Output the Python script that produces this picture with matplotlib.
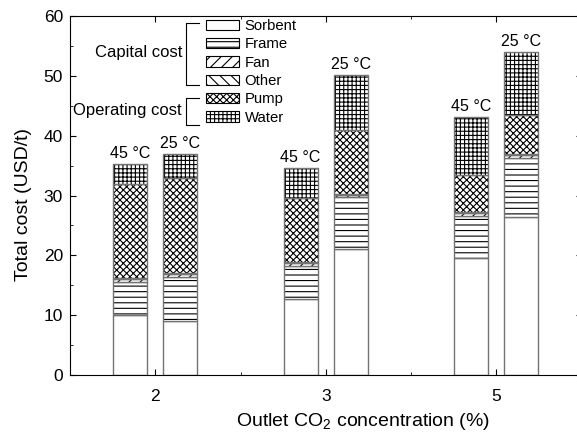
import numpy as np
from matplotlib import pyplot as plt
from matplotlib.patches import Patch
from matplotlib.lines import Line2D

plt.rcParams['font.family'] = ['Liberation Sans', 'DejaVu Sans']
plt.rcParams['mathtext.fontset'] = 'custom'
plt.rcParams['mathtext.rm'] = 'Liberation Sans'
plt.rcParams['mathtext.it'] = 'Liberation Sans:italic'
plt.rcParams['hatch.linewidth'] = 0.8

groups = ['2', '3', '5']
temps = ['45 °C', '25 °C']
parts = ['Sorbent', 'Frame', 'Fan', 'Other', 'Pump', 'Water']
hatches = ['', '---', '///', '\\\\\\', 'xxxxx', '++++']

# values per part, order: [2% 45C, 2% 25C, 3% 45C, 3% 25C, 5% 45C, 5% 25C]
sorbent = [10.0, 9.1, 12.7, 21.1, 19.5, 26.4]
frame = [5.6, 7.3, 5.6, 8.6, 7.1, 9.9]
fan = [0.4, 0.4, 0.4, 0.4, 0.4, 0.4]
other = [0.2, 0.2, 0.2, 0.2, 0.2, 0.2]
pump = [15.8, 16.0, 10.6, 10.6, 6.2, 6.5]
water = [3.3, 3.9, 5.1, 9.2, 9.8, 10.6]

data = [sorbent, frame, fan, other, pump, water]

fig = plt.figure(figsize=(5.77, 4.33), dpi=100)
ax = fig.add_axes([70 / 577, 1 - 375 / 433, 511.5 / 577, 359 / 433])

x = np.arange(1, len(groups) + 1)
pos = np.ravel([[xi - 0.147, xi + 0.147] for xi in x])
w = 0.2

bottom = np.zeros(len(pos))
for vals, h in zip(data, hatches):
    vals = np.array(vals)
    ax.bar(pos, vals, w, bottom=bottom, color='white', edgecolor='k',
           hatch=h, linewidth=0)
    ax.bar(pos, vals, w, bottom=bottom, fill=False, edgecolor='0.45',
           linewidth=1.0)
    bottom = bottom + vals

for i, p in enumerate(pos):
    ax.text(p, bottom[i] + 0.5, temps[i % 2], ha='center', va='bottom',
            fontsize=11.5)

ax.set_xlim(0.5, 3.5)
ax.set_ylim(0, 60)
ax.set_xticks(x)
ax.set_xticklabels(groups)
ax.set_xticks([1.5, 2.5], minor=True)
ax.set_yticks(range(0, 61, 10))
ax.set_yticks(range(5, 60, 10), minor=True)
ax.tick_params(which='both', direction='in', top=True, right=True,
               labelsize=12.5)
ax.tick_params(which='major', length=4.5)
ax.tick_params(which='minor', length=2.2)
ax.tick_params(axis='x', which='both', pad=10)
ax.tick_params(axis='y', which='both', pad=5)
ax.set_ylabel('Total cost (USD/t)', fontsize=14)
ax.set_xlabel(r'Outlet CO$_2$ concentration (%)', fontsize=14)
ax.xaxis.set_label_coords(0.573, -0.1)
ax.yaxis.set_label_coords(-0.075, 0.475)

handles = [Patch(facecolor='white', edgecolor='k', hatch=h, linewidth=0.8)
           for h in hatches]
ax.legend(handles, parts, loc='upper left', frameon=False, fontsize=10.7,
          bbox_to_anchor=(206 / 577, 1 - 19 / 433),
          bbox_transform=fig.transFigure, borderpad=0, borderaxespad=0,
          handlelength=2.2, handleheight=0.7, handletextpad=0.4,
          labelspacing=0.29)

# brackets for cost groups, figure pixel coordinates
def px(xp, yp):
    return xp / 577, 1 - yp / 433

for y1, y2 in [(23, 85), (98, 125)]:
    xs = [199, 186, 186, 199]
    ys = [y1, y1, y2, y2]
    pts = [px(a, b) for a, b in zip(xs, ys)]
    fig.add_artist(Line2D([p[0] for p in pts], [p[1] for p in pts],
                          color='k', linewidth=0.8))

fig.text(*px(182, 53), 'Capital cost', ha='right', va='center', fontsize=12)
fig.text(*px(182, 111), 'Operating cost', ha='right', va='center',
         fontsize=12)

fig.savefig('out.png', dpi=100)
